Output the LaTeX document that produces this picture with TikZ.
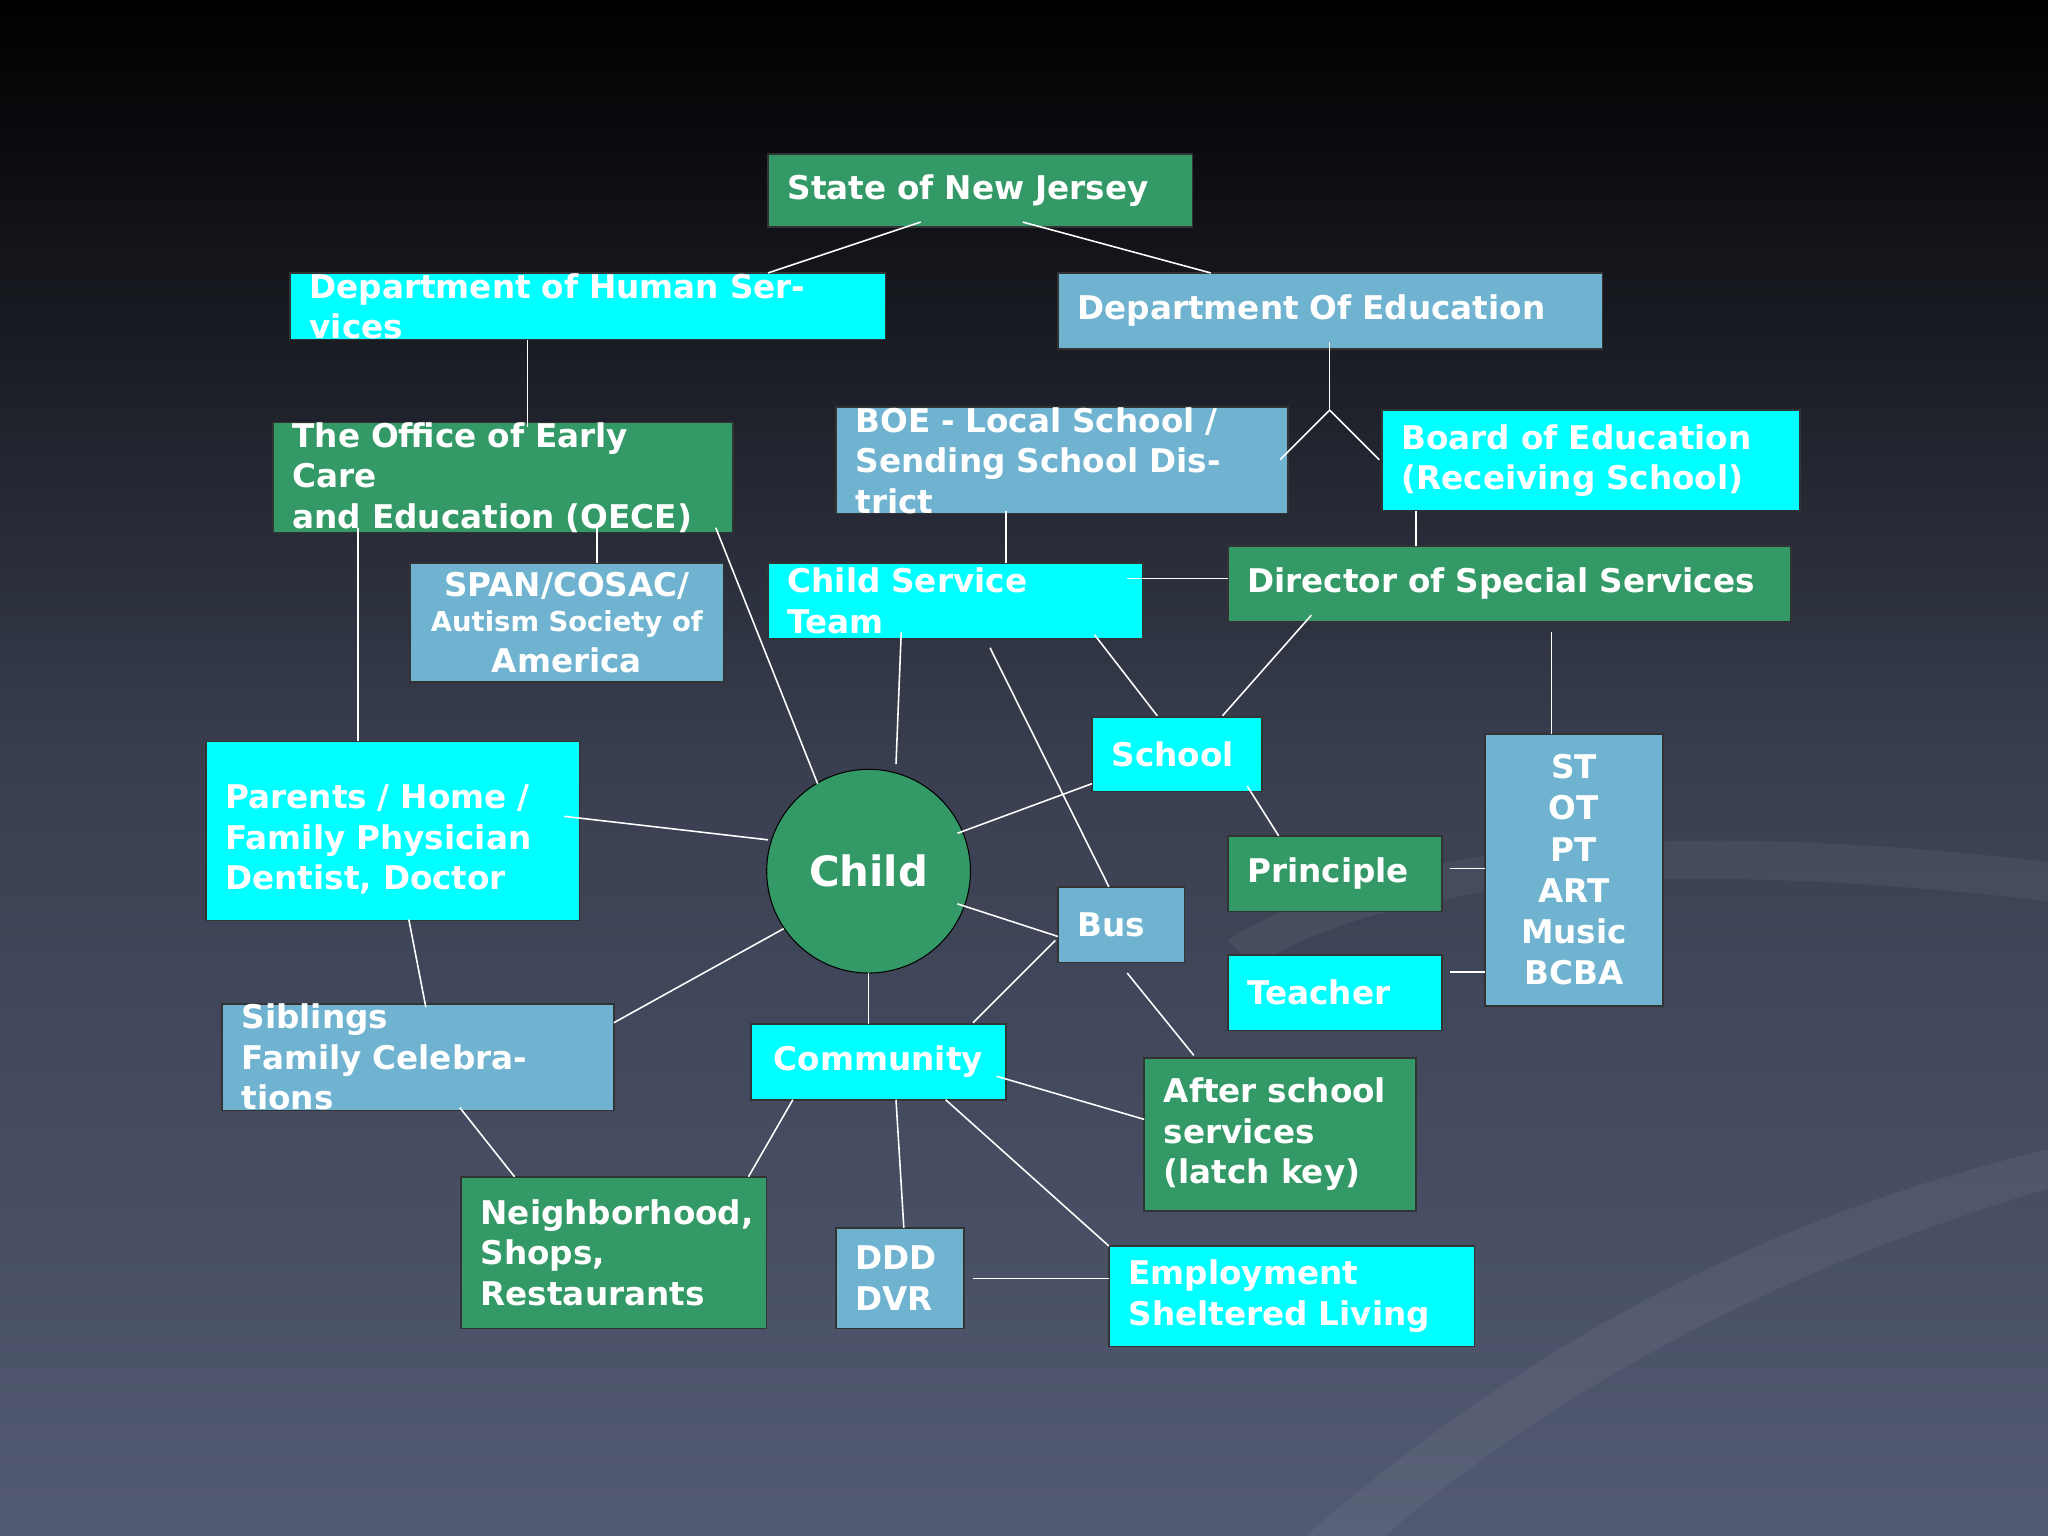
\documentclass[tikz,border=0pt]{standalone}
\usepackage{fontspec}
\setmainfont{DejaVu Sans}
\definecolor{gr}{HTML}{339966}
\definecolor{cy}{HTML}{00FFFF}
\definecolor{lb}{HTML}{6FB3D0}
\definecolor{bgb}{HTML}{525A72}
\newcommand{\bx}[7]{\node[box,fill=#6,minimum width={(#4-#2)*0.5pt},minimum height={(#5-#3)*0.5pt},text width={(#4-#2-30)*0.5pt}] (#1) at ({(#2+#4)/2},{(#3+#5)/2}) {#7};}
\begin{document}
\begin{tikzpicture}[x=0.5pt,y=-0.5pt,
 box/.style={draw=black!80,line width=0.6pt,inner sep=0pt,align=left,text=white,font=\bfseries\fontsize{12.5}{15.5}\selectfont},
 ln/.style={draw=white,line width=0.6pt}]
\shade[top color=black,bottom color=bgb,middle color=bgb!70!black] (0,0) rectangle (1568,1176);
\useasboundingbox (0,0) rectangle (1568,1176);
\fill[white,opacity=0.05] (940,720) .. controls (1100,620) and (1400,640) .. (1568,660) -- (1568,690) .. controls (1400,670) and (1100,650) .. (960,740) -- cycle;
\fill[white,opacity=0.05] (1000,1176) .. controls (1200,1000) and (1400,920) .. (1568,880) -- (1568,910) .. controls (1400,960) and (1220,1040) .. (1060,1176) -- cycle;
\bx{nj}{588}{118}{913}{174}{gr}{State of New Jersey}
\bx{dhs}{222}{209}{678}{260}{cy}{Department of Human Services}
\bx{doe}{810}{209}{1227}{267}{lb}{Department Of Education}
\bx{oece}{209}{327}{561}{404}{gr}{The Office of Early Care\\and Education (OECE)}
\bx{boe}{640}{314}{986}{391}{lb}{BOE - Local School /\\Sending School District}
\bx{brd}{1058}{314}{1378}{391}{cy}{Board of Education\\(Receiving School)}
\node[box,fill=lb,minimum width=120pt,minimum height=45.5pt,align=center] (span) at (434,476.5) {SPAN/COSAC/\\[-2pt]\fontsize{10.5}{13}\selectfont Autism Society of\\America};
\bx{cst}{588}{431}{875}{489}{cy}{Child Service Team}
\bx{dir}{940}{418}{1371}{476}{gr}{Director of Special Services}
\bx{sch}{836}{549}{966}{606}{cy}{School}
\node[box,fill=cy,minimum width=143pt,minimum height=68.5pt,text width=128pt,anchor=north west,inner ysep=0pt] (par) at (157,567) {\rule{0pt}{16pt}Parents / Home /\\Family Physician\\Dentist, Doctor};
\node[circle,draw=black,fill=gr,minimum size=78pt,text=white,font=\bfseries\fontsize{16}{18}\selectfont] (child) at (665,667) {Child};
\bx{pri}{940}{640}{1104}{698}{gr}{Principle}
\node[box,fill=lb,minimum width=68pt,minimum height=104pt,align=center,font=\bfseries\fontsize{12.5}{15.8}\selectfont] (st) at (1205,666) {ST\\OT\\PT\\ART\\Music\\BCBA};
\bx{bus}{810}{679}{907}{737}{lb}{Bus}
\bx{tea}{940}{731}{1104}{789}{cy}{Teacher}
\bx{sib}{170}{771}{470}{848}{lb}{Siblings\\Family Celebrations}
\node[box,fill=cy,minimum width=97.5pt,minimum height=29pt,align=center] (com) at (672.5,813) {Community};
\bx{aft}{876}{810}{1084}{927}{gr}{After school\\services\\(latch key)}
\bx{nei}{353}{901}{587}{1017}{gr}{Neighborhood,\\Shops,\\Restaurants}
\bx{ddd}{640}{940}{738}{1017}{lb}{DDD\\DVR}
\bx{emp}{849}{954}{1129}{1031}{cy}{Employment\\Sheltered Living}
\foreach \a/\b in {{705,170}/{588,209},{783,170}/{927,209},{404,260}/{404,327},{1018,262}/{1018,314},{1018,314}/{980,352},{1018,314}/{1056,352},{457,404}/{457,431},{274,404}/{274,567},{548,404}/{626,600},{770,391}/{770,431},{863,443}/{940,443},{1084,391}/{1084,418},{690,484}/{686,585},{758,496}/{849,679},{838,486}/{886,548},{1004,471}/{936,548},{1188,484}/{1188,562},{432,625}/{588,643},{733,638}/{836,600},{955,602}/{979,640},{1110,665}/{1137,665},{1110,744}/{1137,744},{733,692}/{810,717},{745,783}/{808,720},{863,745}/{914,808},{313,704}/{326,771},{600,711}/{470,783},{665,745}/{665,784},{763,824}/{876,857},{607,842}/{573,901},{352,848}/{394,901},{686,842}/{692,940},{724,842}/{849,954},{745,979}/{849,979}}
 \draw[ln] (\a) -- (\b);
\end{tikzpicture}
\end{document}
